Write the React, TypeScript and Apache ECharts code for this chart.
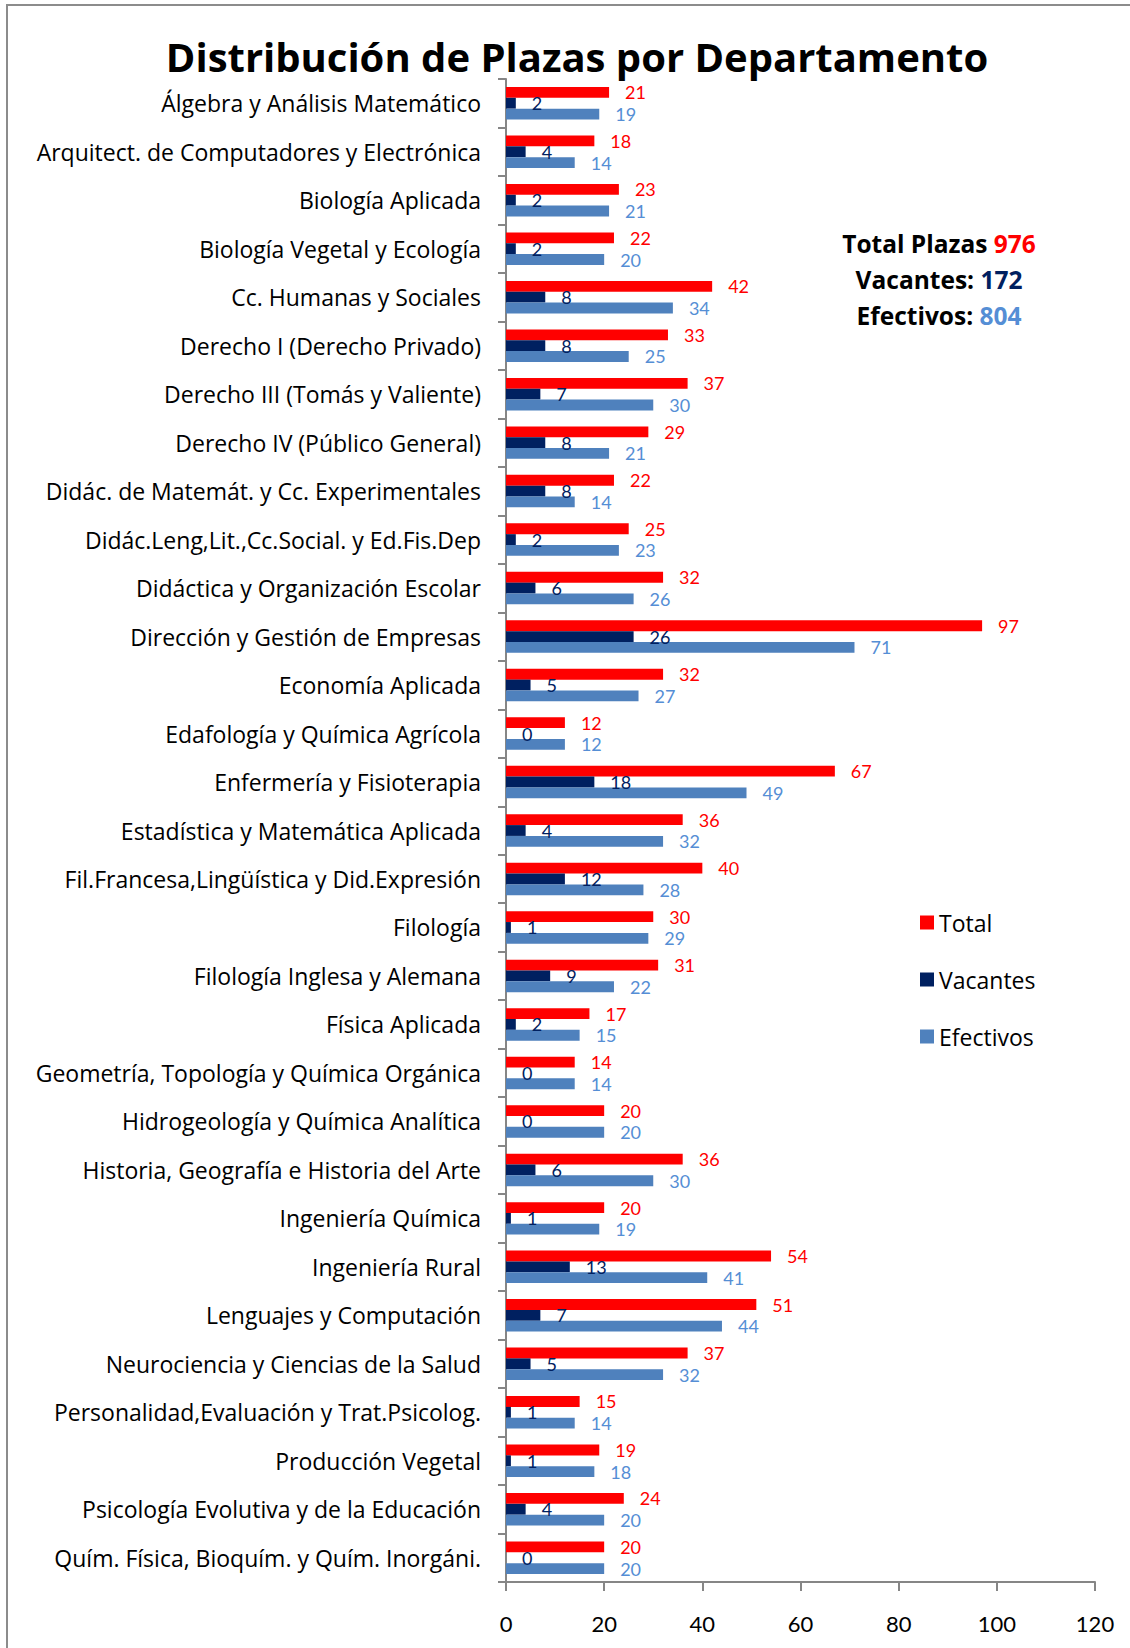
import React, { useEffect, useRef } from "react";
import * as echarts from "echarts";

const categories = [
  "Álgebra y Análisis Matemático",
  "Arquitect. de Computadores y Electrónica",
  "Biología Aplicada",
  "Biología Vegetal y Ecología",
  "Cc. Humanas y Sociales",
  "Derecho I (Derecho Privado)",
  "Derecho III (Tomás y Valiente)",
  "Derecho IV (Público General)",
  "Didác. de Matemát. y Cc. Experimentales",
  "Didác.Leng,Lit.,Cc.Social. y Ed.Fis.Dep",
  "Didáctica y Organización Escolar",
  "Dirección y Gestión de Empresas",
  "Economía Aplicada",
  "Edafología y Química Agrícola",
  "Enfermería y Fisioterapia",
  "Estadística y Matemática Aplicada",
  "Fil.Francesa,Lingüística y Did.Expresión",
  "Filología",
  "Filología Inglesa y Alemana",
  "Física Aplicada",
  "Geometría, Topología y Química Orgánica",
  "Hidrogeología y Química Analítica",
  "Historia, Geografía e Historia del Arte",
  "Ingeniería Química",
  "Ingeniería Rural",
  "Lenguajes y Computación",
  "Neurociencia y Ciencias de la Salud",
  "Personalidad,Evaluación y Trat.Psicolog.",
  "Producción Vegetal",
  "Psicología Evolutiva y de la Educación",
  "Quím. Física, Bioquím. y Quím. Inorgáni.",
];

const totalValues = [21, 18, 23, 22, 42, 33, 37, 29, 22, 25, 32, 97, 32, 12, 67, 36, 40, 30, 31, 17, 14, 20, 36, 20, 54, 51, 37, 15, 19, 24, 20];
const vacantesValues = [2, 4, 2, 2, 8, 8, 7, 8, 8, 2, 6, 26, 5, 0, 18, 4, 12, 1, 9, 2, 0, 0, 6, 1, 13, 7, 5, 1, 1, 4, 0];
const efectivosValues = [19, 14, 21, 20, 34, 25, 30, 21, 14, 23, 26, 71, 27, 12, 49, 32, 28, 29, 22, 15, 14, 20, 30, 19, 41, 44, 32, 14, 18, 20, 20];

const xMin = 0;
const xMax = 120;
const xInterval = 20;

const summaryTotal = 976;
const summaryVacantes = 172;
const summaryEfectivos = 804;

const FONT = "'Open Sans', 'Noto Sans', sans-serif";
const NUM_FONT = "Lato, 'Noto Sans', sans-serif";
const RED = "#FF0000";
const NAVY = "#002060";
const BLUE = "#4F81BD";
const BLUE_LABEL = "#558ED5";
const AXIS_GRAY = "#868686";

export default function App() {
  const ref = useRef<HTMLDivElement>(null);

  useEffect(() => {
    if (!ref.current) return;
    const chart = echarts.init(ref.current, null, { renderer: "svg" });

    const labelBase = {
      show: true,
      position: "right" as const,
      distance: 16,
      fontFamily: NUM_FONT,
      fontSize: 18,
    };

    const summaryStyle = (key: string, value: number, color: string) => ({
      text: "{k|" + key + "}{v|" + value + "}",
      align: "center",
      verticalAlign: "middle",
      rich: {
        k: { fontFamily: FONT, fontWeight: "bold", fontSize: 24.5, fill: "#000000", color: "#000000" },
        v: { fontFamily: FONT, fontWeight: "bold", fontSize: 24.5, fill: color, color: color },
      },
    });

    chart.setOption({
      animation: false,
      backgroundColor: "#ffffff",
      title: {
        text: "Distribución de Plazas por Departamento",
        left: 572,
        top: 31,
        textAlign: "center",
        textStyle: {
          fontFamily: FONT,
          fontWeight: "bold",
          fontSize: 40,
          color: "#000000",
        },
      },
      legend: {
        orient: "vertical",
        left: 915,
        top: 906,
        icon: "rect",
        itemWidth: 14,
        itemHeight: 14,
        itemGap: 34,
        textStyle: { fontFamily: FONT, fontSize: 23, color: "#000000" },
        data: ["Total", "Vacantes", "Efectivos"],
      },
      grid: {
        left: 506,
        right: 35,
        top: 79,
        bottom: 66,
        containLabel: false,
      },
      xAxis: {
        type: "value",
        min: xMin,
        max: xMax,
        interval: xInterval,
        splitLine: { show: false },
        axisLine: { show: true, lineStyle: { color: AXIS_GRAY, width: 2 } },
        axisTick: { show: true, length: 9, lineStyle: { color: AXIS_GRAY, width: 2 } },
        axisLabel: { fontFamily: NUM_FONT, fontSize: 22, color: "#000000", margin: 30 },
      },
      yAxis: {
        type: "category",
        inverse: true,
        data: categories,
        axisLine: { show: true, lineStyle: { color: AXIS_GRAY, width: 2 } },
        axisTick: { show: true, length: 8, inside: false, lineStyle: { color: AXIS_GRAY, width: 2 } },
        axisLabel: { fontFamily: FONT, fontSize: 23, color: "#000000", margin: 25 },
      },
      series: [
        {
          name: "Total",
          type: "bar",
          data: totalValues,
          barGap: "0%",
          barCategoryGap: "33%",
          itemStyle: { color: RED },
          label: { ...labelBase, color: RED },
        },
        {
          name: "Vacantes",
          type: "bar",
          data: vacantesValues,
          barGap: "0%",
          barCategoryGap: "33%",
          itemStyle: { color: NAVY },
          label: { ...labelBase, color: NAVY },
        },
        {
          name: "Efectivos",
          type: "bar",
          data: efectivosValues,
          barGap: "0%",
          barCategoryGap: "33%",
          itemStyle: { color: BLUE },
          label: { ...labelBase, color: BLUE_LABEL },
        },
      ],
      graphic: [
        {
          type: "rect",
          shape: { x: 7, y: 5, width: 1300, height: 1800 },
          style: { fill: "none", stroke: "#8c8c8c", lineWidth: 2 },
          silent: true,
          z: 100,
        },
        { type: "text", x: 939, y: 243, style: summaryStyle("Total Plazas ", summaryTotal, RED) },
        { type: "text", x: 939, y: 279, style: summaryStyle("Vacantes: ", summaryVacantes, NAVY) },
        { type: "text", x: 939, y: 315, style: summaryStyle("Efectivos: ", summaryEfectivos, BLUE_LABEL) },
      ],
    });

    return () => {
      chart.dispose();
    };
  }, []);

  return (
    <div
      ref={ref}
      style={{ position: "absolute", left: 0, top: 0, width: 1130, height: 1648 }}
    />
  );
}
